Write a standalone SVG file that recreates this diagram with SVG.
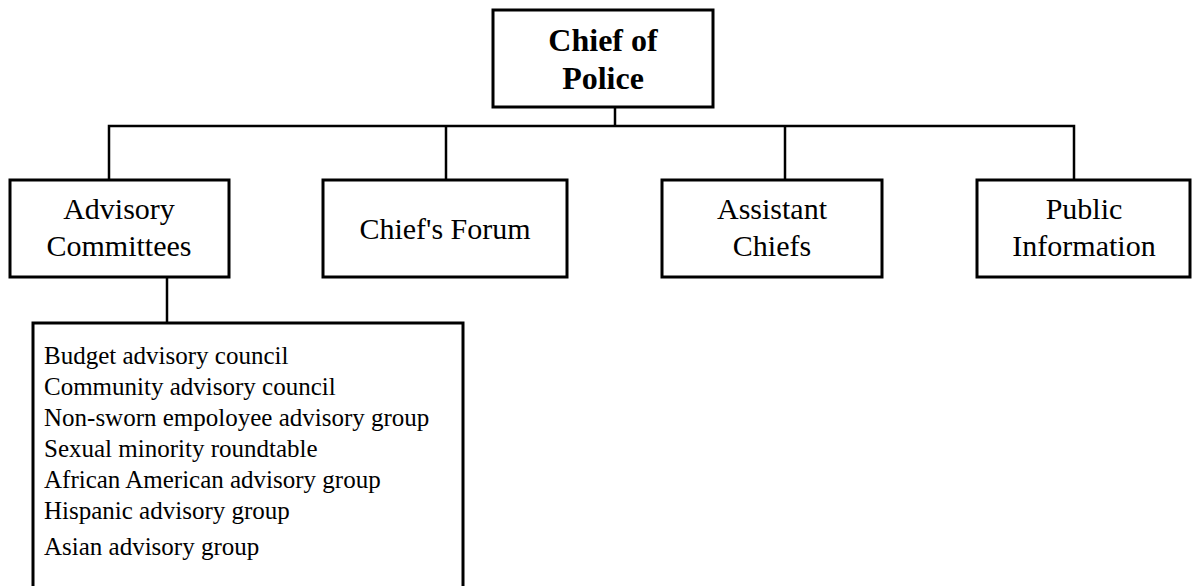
<svg xmlns="http://www.w3.org/2000/svg" width="1193" height="586" viewBox="0 0 1193 586">
<style>
.box{fill:#fff;stroke:#000;stroke-width:3}
.con{fill:none;stroke:#000;stroke-width:2.5}
.lbl{font-family:"Liberation Serif","Times New Roman",serif;font-size:30px;fill:#000;text-anchor:middle}
.head{font-family:"Liberation Serif","Times New Roman",serif;font-size:32px;font-weight:bold;fill:#000;text-anchor:middle}
.item{font-family:"Liberation Serif","Times New Roman",serif;font-size:25px;fill:#000}
</style>
<rect width="1193" height="586" fill="#fff"/>
<g id="connectors">
<line class="con" x1="615" y1="107" x2="615" y2="126"/>
<polyline class="con" points="109,180 109,126 1074,126 1074,180"/>
<line class="con" x1="446" y1="126" x2="446" y2="180"/>
<line class="con" x1="785" y1="126" x2="785" y2="180"/>
<line class="con" x1="167" y1="277" x2="167" y2="323"/>
</g>
<g id="chief">
<rect class="box" x="493" y="10" width="220" height="97"/>
<text class="head" x="603" y="51">Chief of</text>
<text class="head" x="603" y="89">Police</text>
</g>
<g id="advisory">
<rect class="box" x="10" y="180" width="219" height="97"/>
<text class="lbl" x="119" y="219">Advisory</text>
<text class="lbl" x="119" y="256">Committees</text>
</g>
<g id="forum">
<rect class="box" x="323" y="180" width="244" height="97"/>
<text class="lbl" x="445" y="239">Chief's Forum</text>
</g>
<g id="assistant">
<rect class="box" x="662" y="180" width="220" height="97"/>
<text class="lbl" x="772" y="219">Assistant</text>
<text class="lbl" x="772" y="256">Chiefs</text>
</g>
<g id="public">
<rect class="box" x="977" y="180" width="213" height="97"/>
<text class="lbl" x="1084" y="219">Public</text>
<text class="lbl" x="1084" y="256">Information</text>
</g>
<g id="committees">
<rect class="box" x="33" y="323" width="430" height="280"/>
<text class="item" x="44" y="364">Budget advisory council</text>
<text class="item" x="44" y="395">Community advisory council</text>
<text class="item" x="44" y="426">Non-sworn empoloyee advisory group</text>
<text class="item" x="44" y="457">Sexual minority roundtable</text>
<text class="item" x="44" y="488">African American advisory group</text>
<text class="item" x="44" y="519">Hispanic advisory group</text>
<text class="item" x="44" y="555">Asian advisory group</text>
</g>
</svg>
